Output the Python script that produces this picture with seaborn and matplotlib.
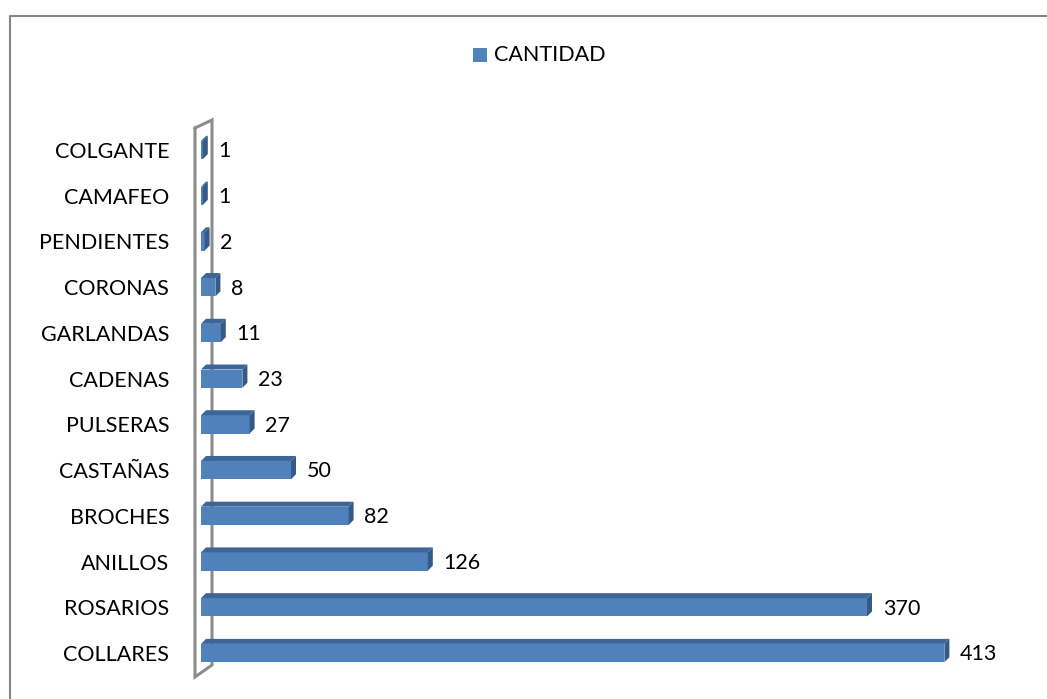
import matplotlib
matplotlib.use("Agg")
import matplotlib.pyplot as plt
from matplotlib.patches import Polygon, Rectangle
from matplotlib.lines import Line2D
import seaborn as sns
import pandas as pd

# Jewellery pieces by type
categories = ["COLGANTE", "CAMAFEO", "PENDIENTES", "CORONAS", "GARLANDAS", "CADENAS",
              "PULSERAS", "CASTAÑAS", "BROCHES", "ANILLOS", "ROSARIOS", "COLLARES"]
cantidad = [1, 1, 2, 8, 11, 23, 27, 50, 82, 126, 370, 413]
series_name = "CANTIDAD"

df = pd.DataFrame({"tipo": categories, series_name: cantidad})

sns.set_theme(style="white")
plt.rcParams["font.family"] = ["Lato", "DejaVu Sans"]

W, H = 1047, 699
fig = plt.figure(figsize=(W / 100, H / 100), dpi=100)

def fx(px):
    return px / W

def fy(py):
    return 1 - py / H

# axes placed in pixel terms
ax_l, ax_r, ax_t, ax_b = 190, 1010, 110, 690
ax = fig.add_axes([fx(ax_l), fy(ax_b), fx(ax_r - ax_l), (ax_b - ax_t) / H])

front = "#4F81BD"
top_col = "#3E6597"
side_col = "#365A86"

sns.barplot(data=df, x=series_name, y="tipo", orient="h", color=front,
            width=0.40, saturation=1, linewidth=0, ax=ax, zorder=3)

px_per_unit = 1.8
x0 = -(201 - ax_l) / px_per_unit
ax.set_xlim(x0, x0 + (ax_r - ax_l) / px_per_unit)
spacing = 45.73
y_top = (ax_t - 150) / spacing
ax.set_ylim(y_top + (ax_b - ax_t) / spacing, y_top)

# 3D depth faces built from each bar
dx_px, dy_px = 5, 5
dx = dx_px / px_per_unit
dy = dy_px / spacing
for bar in list(ax.patches):
    bx, by = bar.get_x(), bar.get_y()
    bw, bh = bar.get_width(), bar.get_height()
    # top face (y axis inverted: smaller y is higher)
    ax.add_patch(Polygon([(bx, by), (bx + bw, by), (bx + bw + dx, by - dy), (bx + dx, by - dy)],
                         closed=True, facecolor=top_col, edgecolor="none", zorder=3))
    # side face
    ax.add_patch(Polygon([(bx + bw, by), (bx + bw + dx, by - dy), (bx + bw + dx, by + bh - dy),
                          (bx + bw, by + bh)],
                         closed=True, facecolor=side_col, edgecolor="none", zorder=3))

# value labels
for i, v in enumerate(cantidad):
    ax.text(v + dx + 6, i + 0.03, str(v), va="center", ha="left", fontsize=15.5,
            color="black", zorder=4)

ax.set_xlabel("")
ax.set_ylabel("")
ax.set_xticks([])
ax.tick_params(axis="y", length=0, pad=15, labelsize=15.5, labelcolor="black")
for s in ax.spines.values():
    s.set_visible(False)

# side wall of the chart, drawn behind the bars
wall = "#8C8C8C"
pts = [(195, 128), (212, 120), (212, 665), (195, 677), (195, 128)]
ax.add_line(Line2D([fx(p[0]) for p in pts], [fy(p[1]) for p in pts],
                   transform=fig.transFigure, color=wall, lw=2.2,
                   solid_joinstyle="miter", clip_on=False, zorder=1))

# outer frame (top and left)
fig.add_artist(Line2D([fx(9.5), fx(9.5), fx(W + 5)], [fy(H + 5), fy(15.5), fy(15.5)],
                      color="#868686", lw=1.5))

# legend
fig.add_artist(Rectangle((fx(473), fy(62)), fx(14), 14 / H, facecolor=front,
                         edgecolor="none"))
fig.text(fx(494), fy(55), series_name, va="center", ha="left", fontsize=15.5, color="black")

fig.savefig("out.png", dpi=100, facecolor="white")
